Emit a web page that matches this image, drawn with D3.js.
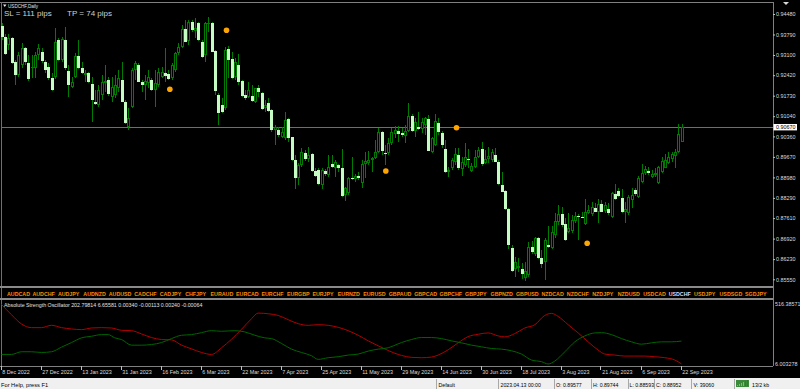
<!DOCTYPE html>
<html>
<head>
<meta charset="utf-8">
<style>
html, body { margin: 0; padding: 0; background: #000; overflow: hidden; }
svg { display: block; font-family: "Liberation Sans", Arial, sans-serif; }
</style>
<script src="https://d3js.org/d3.v7.min.js"></script>
</head>
<body>
<svg id="chart" width="800" height="389"></svg>
<script>
// USDCHF daily, 8 Dec 2022 .. 22 Sep 2023
var opens = [
  0.9409,0.9372,0.9344,0.9366,0.9285,0.9243,0.9276,0.9332,0.9282,0.9265,
  0.9265,0.9310,0.9321,0.9288,0.9271,0.9232,0.9237,0.9361,0.9293,0.9361,
  0.9256,0.9203,0.9237,0.9308,0.9265,0.9243,0.9248,0.9212,0.9153,0.9142,
  0.9175,0.9215,0.9226,0.9170,0.9175,0.9198,0.9226,0.9153,0.9069,0.9136,
  0.9260,0.9276,0.9220,0.9209,0.9215,0.9226,0.9192,0.9209,0.9237,0.9248,
  0.9246,0.9232,0.9260,0.9316,0.9338,0.9398,0.9357,0.9422,0.9391,0.9417,
  0.9355,0.9310,0.9413,0.9417,0.9323,0.9175,0.9142,0.9131,0.9330,0.9297,
  0.9237,0.9276,0.9223,0.9175,0.9170,0.9173,0.9153,0.9198,0.9181,0.9131,
  0.9147,0.9125,0.9058,0.9058,0.9035,0.9030,0.9095,0.9033,0.8958,0.8895,
  0.8940,0.8979,0.8960,0.8976,0.8920,0.8923,0.8872,0.8921,0.8906,0.8942,
  0.8929,0.8940,0.8929,0.8839,0.8844,0.8897,0.8893,0.8904,0.8878,0.8942,
  0.8945,0.8957,0.8964,0.8982,0.9052,0.8981,0.8979,0.9013,0.9043,0.9055,
  0.9046,0.9039,0.9054,0.9105,0.9054,0.9068,0.9061,0.9074,0.9095,0.8982,
  0.9007,0.9080,0.9046,0.8993,0.8917,0.8929,0.8949,0.8973,0.8926,0.8940,
  0.8960,0.8920,0.8934,0.8968,0.8993,0.8945,0.8960,0.8957,0.8973,0.8949,
  0.8872,0.8852,0.8792,0.8662,0.8590,0.8592,0.8590,0.8558,0.8570,0.8665,
  0.8639,0.8695,0.8626,0.8614,0.8671,0.8662,0.8704,0.8749,0.8774,0.8740,
  0.8715,0.8718,0.8751,0.8769,0.8765,0.8742,0.8777,0.8774,0.8796,0.8780,
  0.8807,0.8785,0.8792,0.8766,0.8841,0.8853,0.8830,0.8783,0.8777,0.8822,
  0.8854,0.8833,0.8884,0.8912,0.8920,0.8901,0.8906,0.8878,0.8915,0.8931,
  0.8945,0.8960,0.8971,0.8982,0.9018
];
var highs = [
  0.9417,0.9380,0.9380,0.9372,0.9293,0.9321,0.9349,0.9338,0.9310,0.9310,
  0.9321,0.9346,0.9332,0.9293,0.9282,0.9248,0.9400,0.9366,0.9372,0.9405,
  0.9276,0.9237,0.9316,0.9361,0.9288,0.9260,0.9254,0.9237,0.9192,0.9209,
  0.9243,0.9276,0.9237,0.9237,0.9243,0.9260,0.9288,0.9159,0.9131,0.9265,
  0.9290,0.9282,0.9226,0.9243,0.9260,0.9232,0.9260,0.9265,0.9271,0.9332,
  0.9260,0.9282,0.9321,0.9349,0.9411,0.9428,0.9428,0.9428,0.9433,0.9422,
  0.9361,0.9422,0.9439,0.9422,0.9327,0.9181,0.9164,0.9338,0.9341,0.9321,
  0.9299,0.9312,0.9226,0.9192,0.9220,0.9209,0.9200,0.9209,0.9187,0.9159,
  0.9164,0.9128,0.9074,0.9069,0.9069,0.9119,0.9097,0.9035,0.8974,0.8945,
  0.8996,0.8990,0.9001,0.8979,0.8929,0.8929,0.8929,0.8926,0.8973,0.8973,
  0.8957,0.8942,0.8994,0.8867,0.8901,0.8968,0.8908,0.8917,0.8957,0.8985,
  0.8987,0.8968,0.9024,0.9063,0.9054,0.9007,0.9030,0.9065,0.9072,0.9072,
  0.9063,0.9074,0.9147,0.9110,0.9097,0.9119,0.9099,0.9102,0.9108,0.9035,
  0.9110,0.9097,0.9054,0.9024,0.8934,0.8964,0.8998,0.8996,0.8968,0.9013,
  0.8994,0.8945,0.8990,0.9001,0.9016,0.8990,0.9001,0.8994,0.8998,0.8957,
  0.8917,0.8856,0.8794,0.8671,0.8631,0.8628,0.8609,0.8612,0.8682,0.8684,
  0.8699,0.8699,0.8654,0.8693,0.8736,0.8736,0.8777,0.8805,0.8800,0.8760,
  0.8777,0.8771,0.8783,0.8774,0.8783,0.8825,0.8805,0.8816,0.8811,0.8825,
  0.8822,0.8816,0.8811,0.8850,0.8875,0.8861,0.8859,0.8816,0.8839,0.8861,
  0.8863,0.8904,0.8942,0.8938,0.8934,0.8923,0.8929,0.8938,0.8968,0.8976,
  0.8985,0.8985,0.8994,0.9077,0.9077
];
var lows = [
  0.9361,0.9310,0.9327,0.9279,0.9209,0.9237,0.9265,0.9276,0.9223,0.9232,
  0.9232,0.9293,0.9282,0.9248,0.9226,0.9189,0.9229,0.9290,0.9288,0.9260,
  0.9170,0.9198,0.9232,0.9263,0.9245,0.9220,0.9215,0.9086,0.9142,0.9136,
  0.9159,0.9187,0.9173,0.9153,0.9164,0.9187,0.9151,0.9077,0.9058,0.9131,
  0.9226,0.9218,0.9184,0.9159,0.9198,0.9189,0.9136,0.9203,0.9232,0.9220,
  0.9226,0.9226,0.9254,0.9310,0.9332,0.9353,0.9344,0.9389,0.9366,0.9357,
  0.9301,0.9288,0.9389,0.9319,0.9175,0.9074,0.9114,0.9125,0.9232,0.9229,
  0.9226,0.9209,0.9170,0.9159,0.9164,0.9153,0.9147,0.9170,0.9125,0.9119,
  0.9119,0.9052,0.9007,0.9035,0.9030,0.9024,0.9018,0.8953,0.8859,0.8872,
  0.8934,0.8953,0.8951,0.8917,0.8901,0.8872,0.8859,0.8904,0.8901,0.8931,
  0.8901,0.8917,0.8833,0.8819,0.8839,0.8889,0.8884,0.8889,0.8863,0.8895,
  0.8940,0.8917,0.8960,0.8979,0.8973,0.8940,0.8973,0.9007,0.9032,0.9016,
  0.9035,0.9013,0.9052,0.9050,0.9035,0.9058,0.9046,0.9041,0.8987,0.8979,
  0.9005,0.9041,0.8996,0.8912,0.8901,0.8923,0.8940,0.8923,0.8904,0.8934,
  0.8929,0.8915,0.8931,0.8964,0.8938,0.8942,0.8945,0.8951,0.8949,0.8872,
  0.8848,0.8788,0.8657,0.8581,0.8564,0.8581,0.8556,0.8549,0.8564,0.8639,
  0.8635,0.8623,0.8594,0.8553,0.8662,0.8657,0.8693,0.8738,0.8732,0.8684,
  0.8710,0.8710,0.8743,0.8687,0.8760,0.8738,0.8774,0.8769,0.8780,0.8743,
  0.8780,0.8777,0.8771,0.8760,0.8822,0.8833,0.8777,0.8743,0.8771,0.8794,
  0.8837,0.8830,0.8878,0.8906,0.8906,0.8897,0.8901,0.8875,0.8912,0.8929,
  0.8942,0.8951,0.8931,0.8979,0.9016
];
var closes = [
  0.9372,0.9312,0.9366,0.9282,0.9243,0.9310,0.9332,0.9288,0.9229,0.9271,
  0.9310,0.9332,0.9290,0.9260,0.9232,0.9192,0.9355,0.9293,0.9364,0.9265,
  0.9209,0.9220,0.9308,0.9267,0.9248,0.9248,0.9220,0.9159,0.9145,0.9192,
  0.9220,0.9223,0.9178,0.9203,0.9209,0.9232,0.9153,0.9080,0.9097,0.9260,
  0.9282,0.9220,0.9209,0.9223,0.9237,0.9192,0.9215,0.9254,0.9254,0.9240,
  0.9229,0.9276,0.9316,0.9338,0.9398,0.9355,0.9422,0.9394,0.9400,0.9361,
  0.9304,0.9417,0.9417,0.9321,0.9189,0.9114,0.9117,0.9327,0.9293,0.9234,
  0.9288,0.9220,0.9173,0.9164,0.9192,0.9155,0.9198,0.9184,0.9128,0.9142,
  0.9122,0.9058,0.9069,0.9041,0.9052,0.9091,0.9030,0.8957,0.8895,0.8940,
  0.8985,0.8960,0.8973,0.8920,0.8904,0.8876,0.8923,0.8908,0.8934,0.8934,
  0.8951,0.8929,0.8837,0.8861,0.8895,0.8893,0.8904,0.8897,0.8942,0.8953,
  0.8957,0.8962,0.8982,0.9050,0.8987,0.8978,0.9013,0.9050,0.9058,0.9045,
  0.9041,0.9054,0.9106,0.9054,0.9086,0.9061,0.9086,0.9099,0.8988,0.9030,
  0.9088,0.9052,0.9007,0.8917,0.8923,0.8957,0.8976,0.8929,0.8949,0.8967,
  0.8955,0.8936,0.8968,0.8990,0.8943,0.8960,0.8970,0.8985,0.8951,0.8875,
  0.8850,0.8791,0.8671,0.8584,0.8614,0.8601,0.8574,0.8583,0.8665,0.8646,
  0.8693,0.8628,0.8605,0.8687,0.8665,0.8715,0.8751,0.8774,0.8738,0.8687,
  0.8729,0.8755,0.8769,0.8765,0.8762,0.8780,0.8788,0.8800,0.8783,0.8807,
  0.8783,0.8805,0.8777,0.8844,0.8825,0.8837,0.8783,0.8792,0.8833,0.8839,
  0.8841,0.8897,0.8912,0.8926,0.8912,0.8908,0.8912,0.8934,0.8953,0.8957,
  0.8968,0.8976,0.8985,0.9043,0.9067
];

var priceTicks = [0.94480, 0.93790, 0.93100, 0.92420, 0.91730, 0.91040, 0.90360,
                  0.89670, 0.88980, 0.88290, 0.87610, 0.86920, 0.86230, 0.85550];

var dateTickBars = [0, 12, 24, 36, 48, 60, 72, 84, 96, 108, 120, 132, 144, 156, 168, 180, 192, 204];
var dateTickLabels = ["8 Dec 2022", "27 Dec 2022", "13 Jan 2023", "31 Jan 2023", "16 Feb 2023",
  "6 Mar 2023", "22 Mar 2023", "7 Apr 2023", "25 Apr 2023", "11 May 2023", "29 May 2023",
  "14 Jun 2023", "30 Jun 2023", "18 Jul 2023", "3 Aug 2023", "21 Aug 2023", "6 Sep 2023", "22 Sep 2023"];

// orange markers (bar position, price)
var dotBars = [50.5, 67.5, 115.3, 136.5, 175.7];
var dotPrices = [0.91946, 0.93931, 0.89196, 0.90653, 0.86762];

var pairs = ["AUDCAD","AUDCHF","AUDJPY","AUDNZD","AUDUSD","CADCHF","CADJPY","CHFJPY","EURAUD","EURCAD",
  "EURCHF","EURGBP","EURJPY","EURNZD","EURUSD","GBPAUD","GBPCAD","GBPCHF","GBPJPY","GBPNZD",
  "GBPUSD","NZDCAD","NZDCHF","NZDJPY","NZDUSD","USDCAD","USDCHF","USDJPY","USDSGD","SGDJPY"];
var activePair = "USDCHF";

// Absolute Strength Oscillator, sampled along the bars
var redBars = [0,3,6,9,12,15,18,21,24,27,30,33,36,39,42,45,48,51,54,57,60,63,66,69,72,75,77,80,83,86,
  89,92,95,98,101,104,107,110,113,116,119,120,123,126,129,131,134,137,140,143,146,149,151,154,157,160,
  163,165,167,170,173,176,179,181,184,187,190,193,196,199,202,204];
var redVals = [516.39,428.5,349,318,318,338,318,306.6,301,315,318,315,295,292,264,233,216,213,167.6,136,
  105,88,145,218.7,303.7,394.5,442.7,437,422.8,386,352,337.8,343.4,337.8,320.7,292,252.7,204.5,162,122,
  88,79.7,62.7,59.9,65.5,82.6,128,187.5,241,261,272.5,247,238.5,267,315,343,423,440,414,343,272.5,196,
  125,91,82.6,74,74,74,68,60,40,6.66];
var greenBars = [0,3,6,9,12,15,18,21,24,27,30,32,34,36,39,42,45,48,51,54,57,60,63,66,70,73,76,79,81,84,
  87,90,93,95,98,101,104,107,110,113,116,119,120,123,126,129,132,135,138,141,144,147,150,153,156,159,
  162,164,166,169,172,175,178,180,183,186,189,192,195,198,201,204];
var greenVals = [88,88,111,111,105,111,150.6,190,230,244,258,258,230,216,167.6,167.6,173,190,224,252.7,
  258,275,292,286.7,292,281,252.7,230,224,182,133.6,105,77,45.7,59.9,68.4,82.6,91,116.6,133.6,145,179,
  190,216,233,233,224,204.5,187.5,167.6,153.4,139,133.6,119.4,91,40,25.8,6.0,31.5,111,196,247,272.5,
  275,258,224,196,176,187.5,196,196,202.8];
var oscMax = 516.38571, oscMin = 6.003278;
var oscTitle = "Absolute Strength Oscillator 202.79814 6.65581 0.00340 -0.00113 0.00240 -0.00064";

var statusTexts = ["Default", "2023.04.13 00:00", "O: 0.89577", "H: 0.89744", "L: 0.88593",
                   "C: 0.88952", "V: 39060", "13/2 kb"];

// ---- layout ----
var W = 800, H = 389, axisX = 773;
var mainTop = 2, mainBottom = 286, subTop = 300, subBottom = 366, statusTop = 378;
var statusX = [438.5, 500.5, 556, 593, 629.5, 656, 693.5, 752];
var statusSep = [436, 497.5, 553.5, 590.5, 627.5, 653.5, 691, 734];

var x = d3.scaleLinear().domain([0, closes.length - 1]).range([1.5, 681.5]);
var y = d3.scaleLinear().domain([0.85550, 0.94480]).range([279.3, 14]);
var yo = d3.scaleLinear().domain([oscMin, oscMax]).range([364, 304.5]);
var px = d3.scaleLinear().domain([0, pairs.length - 1]).range([7, 745]);

var wickCol = "#007c00", bearFill = "#c4fcc4", textCol = "#dcdcdc";

var svg = d3.select("#chart");
svg.append("rect").attr("width", W).attr("height", H).attr("fill", "#000");

svg.append("clipPath").attr("id", "mainClip").append("rect")
  .attr("x", 0).attr("y", mainTop + 1).attr("width", axisX).attr("height", mainBottom - mainTop - 1);
svg.append("clipPath").attr("id", "subClip").append("rect")
  .attr("x", 0).attr("y", subTop).attr("width", axisX).attr("height", subBottom - subTop);

// frame lines
var frame = svg.append("g").attr("shape-rendering", "crispEdges");
frame.append("line").attr("x1", 0).attr("x2", axisX).attr("y1", 2.5).attr("y2", 2.5).attr("stroke", "#808080");
frame.append("line").attr("x1", axisX + 0.5).attr("x2", axisX + 0.5).attr("y1", 2).attr("y2", subBottom).attr("stroke", "#808080");
frame.append("line").attr("x1", 1.5).attr("x2", 1.5).attr("y1", 2).attr("y2", subBottom).attr("stroke", "#707070");
frame.append("rect").attr("x", 0).attr("y", 286).attr("width", axisX).attr("height", 2).attr("fill", "#8a8a8a");
frame.append("rect").attr("x", 0).attr("y", 298).attr("width", axisX).attr("height", 1.5).attr("fill", "#8a8a8a");
frame.append("line").attr("x1", 0).attr("x2", axisX).attr("y1", subBottom + 0.5).attr("y2", subBottom + 0.5).attr("stroke", "#808080");

// bid line
var last = closes.length - 1;
svg.append("line").attr("shape-rendering", "crispEdges")
  .attr("x1", 2).attr("x2", axisX).attr("y1", Math.round(y(closes[last])) + 0.5).attr("y2", Math.round(y(closes[last])) + 0.5)
  .attr("stroke", "#6c6c7c");

// candles
var candles = closes.map(function(c, i) { return {i: i, o: opens[i], h: highs[i], l: lows[i], c: c}; });
var cg = svg.append("g").attr("clip-path", "url(#mainClip)").attr("shape-rendering", "crispEdges");

cg.selectAll(".wick").data(candles).enter().append("rect")
  .attr("class", "wick")
  .attr("x", function(d) { return Math.round(x(d.i)); })
  .attr("y", function(d) { return Math.round(y(d.h)); })
  .attr("width", 1)
  .attr("height", function(d) { return Math.max(1, Math.round(y(d.l)) - Math.round(y(d.h))); })
  .attr("fill", wickCol);

function bodyTop(d) { return Math.round(y(Math.max(d.o, d.c))); }
function bodyH(d) { return Math.max(1, Math.round(y(Math.min(d.o, d.c))) - bodyTop(d)); }

cg.selectAll(".body").data(candles).enter().append("rect")
  .attr("class", "body")
  .attr("x", function(d) { return Math.round(x(d.i)) - 1; })
  .attr("y", bodyTop)
  .attr("width", 3)
  .attr("height", bodyH)
  .attr("fill", function(d) { return d.c >= d.o ? wickCol : bearFill; });

// hollow centre of bull bodies
cg.selectAll(".hole").data(candles.filter(function(d) { return d.c >= d.o && bodyH(d) > 2; }))
  .enter().append("rect")
  .attr("class", "hole")
  .attr("x", function(d) { return Math.round(x(d.i)); })
  .attr("y", function(d) { return bodyTop(d) + 1; })
  .attr("width", 1)
  .attr("height", function(d) { return bodyH(d) - 2; })
  .attr("fill", "#000");

// orange markers
svg.append("g").selectAll("circle").data(dotBars).enter().append("circle")
  .attr("cx", function(d) { return x(d); })
  .attr("cy", function(d, i) { return y(dotPrices[i]); })
  .attr("r", 2.8)
  .attr("fill", "#ffa500");

// top-left labels
svg.append("path").attr("d", "M3,4.5L6.5,4.5L4.75,7Z").attr("fill", "#e8e8e8");
svg.append("text").attr("x", 8).attr("y", 7.6).attr("font-size", "4.6px").attr("fill", "#e0e0e0").text("USDCHF,Daily");
svg.append("text").attr("x", 4).attr("y", 16.3).attr("font-size", "8px").attr("fill", "#d0d0d0").text("SL = 111 pips");
svg.append("text").attr("x", 67).attr("y", 16.3).attr("font-size", "8px").attr("fill", "#d0d0d0").text("TP = 74 pips");
svg.append("path").attr("d", "M783,2L789,2L786,5Z").attr("fill", "#d8d8d8");

// price axis
var pAxis = svg.append("g").attr("transform", "translate(" + axisX + ",0)")
  .call(d3.axisRight(y).tickValues(priceTicks).tickSize(2).tickPadding(1).tickFormat(d3.format(".5f")));
pAxis.select(".domain").remove();
pAxis.selectAll("line").attr("stroke", "#c0c0c0");
pAxis.selectAll("text").attr("fill", textCol).attr("font-size", "5.4px")
  .attr("font-family", "Liberation Sans, Arial, sans-serif");

// current price box
var bidY = y(closes[last]);
svg.append("rect").attr("x", axisX + 0.5).attr("y", bidY - 3.2).attr("width", 23.5).attr("height", 6.4)
  .attr("fill", "#ffffff");
svg.append("text").attr("x", axisX + 3).attr("y", bidY + 1.9).attr("font-size", "5.4px").attr("fill", "#000")
  .text(closes[last].toFixed(5));

// pairs strip
svg.append("g").selectAll("text").data(pairs).enter().append("text")
  .attr("x", function(d, i) { return px(i); })
  .attr("y", 295.6)
  .attr("font-size", "5.3px")
  .attr("font-weight", "bold")
  .attr("fill", function(d) { return d === activePair ? "#dcdcf2" : "#ff8c00"; })
  .text(function(d) { return d; });

// oscillator
var og = svg.append("g").attr("clip-path", "url(#subClip)");
var oline = d3.line().x(function(d) { return x(d[0]); }).y(function(d) { return yo(d[1]); }).curve(d3.curveMonotoneX);
og.append("path").datum(redBars.map(function(b, i) { return [b, redVals[i]]; }))
  .attr("d", oline).attr("fill", "none").attr("stroke", "#b00000").attr("stroke-width", 1);
og.append("path").datum(greenBars.map(function(b, i) { return [b, greenVals[i]]; }))
  .attr("d", oline).attr("fill", "none").attr("stroke", "#006400").attr("stroke-width", 1);
svg.append("text").attr("x", 4).attr("y", 307.4).attr("font-size", "5.3px").attr("fill", "#e0e0e0").text(oscTitle);
svg.append("text").attr("x", axisX + 2).attr("y", yo(oscMax) + 1.9).attr("font-size", "5.4px").attr("fill", textCol)
  .text(d3.format(".5f")(oscMax));
svg.append("text").attr("x", axisX + 2).attr("y", yo(oscMin) + 1.9).attr("font-size", "5.4px").attr("fill", textCol)
  .text(d3.format(".6f")(oscMin));

// time axis
var tg = svg.append("g");
tg.selectAll("line").data(dateTickBars).enter().append("line")
  .attr("shape-rendering", "crispEdges")
  .attr("x1", function(d) { return Math.round(x(d)) - 0.5; })
  .attr("x2", function(d) { return Math.round(x(d)) - 0.5; })
  .attr("y1", subBottom).attr("y2", subBottom + 3.5)
  .attr("stroke", "#c0c0c0");
tg.selectAll("text").data(dateTickBars).enter().append("text")
  .attr("x", function(d) { return x(d) + 0.7; })
  .attr("y", 374.4)
  .attr("font-size", "5.4px")
  .attr("fill", textCol)
  .text(function(d, i) { return dateTickLabels[i]; });

// status bar
svg.append("rect").attr("x", 0).attr("y", statusTop).attr("width", W).attr("height", H - statusTop).attr("fill", "#f0f0f0");
svg.append("text").attr("x", 1).attr("y", 386.6).attr("font-size", "5.7px").attr("fill", "#000").text("For Help, press F1");
svg.append("g").attr("shape-rendering", "crispEdges").selectAll("line").data(statusSep).enter().append("line")
  .attr("x1", function(d) { return d + 0.5; }).attr("x2", function(d) { return d + 0.5; })
  .attr("y1", statusTop + 1).attr("y2", H).attr("stroke", "#a8a8a8");
svg.append("g").selectAll("text").data(statusTexts).enter().append("text")
  .attr("x", function(d, i) { return statusX[i]; })
  .attr("y", 386.6).attr("font-size", "5.2px").attr("fill", "#000")
  .text(function(d) { return d; });
// little traffic icon
var icon = svg.append("g").attr("shape-rendering", "crispEdges");
icon.append("rect").attr("x", 736).attr("y", 380).attr("width", 13).attr("height", 7).attr("fill", "#3a8a3a");
d3.range(6).forEach(function(k) {
  icon.append("rect").attr("x", 737 + k * 2).attr("y", 386 - (k + 1)).attr("width", 1).attr("height", k + 1)
    .attr("fill", k > 3 ? "#d03020" : "#60d060");
});
</script>
</body>
</html>
